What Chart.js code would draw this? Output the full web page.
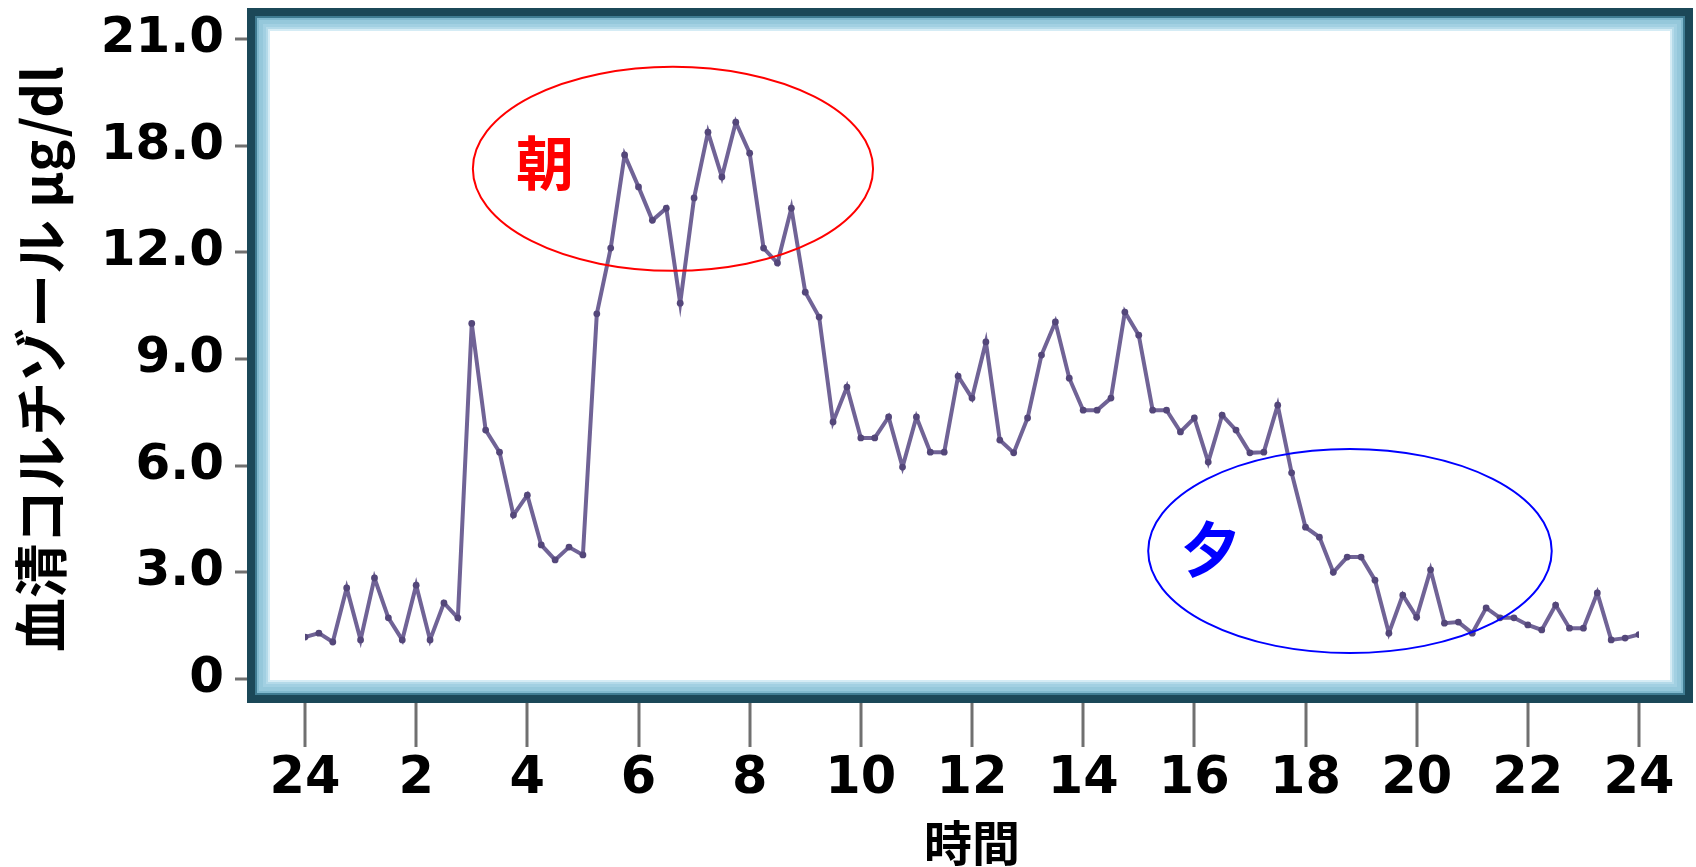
<!DOCTYPE html>
<html>
<head>
<meta charset="utf-8">
<script src="https://cdn.jsdelivr.net/npm/chart.js@4.4.1/dist/chart.umd.min.js"></script>
<style>
html,body{margin:0;padding:0;background:#ffffff;}
canvas{display:block;}
</style>
</head>
<body>
<canvas id="c" width="1696" height="867"></canvas>
<script>
// Time of day (hours after midnight)
const hours = [
  0, 0.25, 0.5, 0.75, 1, 1.25, 1.5, 1.75, 2, 2.25, 2.5, 2.75,
  3, 3.25, 3.5, 3.75, 4, 4.25, 4.5, 4.75, 5, 5.25, 5.5, 5.75,
  6, 6.25, 6.5, 6.75, 7, 7.25, 7.5, 7.75, 8, 8.25, 8.5, 8.75,
  9, 9.25, 9.5, 9.75, 10, 10.25, 10.5, 10.75, 11, 11.25, 11.5, 11.75,
  12, 12.25, 12.5, 12.75, 13, 13.25, 13.5, 13.75, 14, 14.25, 14.5, 14.75,
  15, 15.25, 15.5, 15.75, 16, 16.25, 16.5, 16.75, 17, 17.25, 17.5, 17.75,
  18, 18.25, 18.5, 18.75, 19, 19.25, 19.5, 19.75, 20, 20.25, 20.5, 20.75,
  21, 21.25, 21.5, 21.75, 22, 22.25, 22.5, 22.75, 23, 23.25, 23.5, 23.75,
  24
];
// Serum cortisol (in axis position units)
const cortisol = [
  1.18, 1.29, 1.04, 2.56, 1.10, 2.84, 1.72, 1.10, 2.64, 1.10, 2.14, 1.72,
  10.0, 7.0, 6.38, 4.61, 5.17, 3.77, 3.35, 3.71, 3.49, 10.27, 12.12, 14.74,
  13.84, 12.9, 13.24, 10.57, 13.53, 15.38, 14.12, 15.66, 14.79, 12.12, 11.7, 13.24,
  10.88, 10.18, 7.23, 8.21, 6.78, 6.78, 7.37, 5.96, 7.37, 6.38, 6.38, 8.52,
  7.9, 9.48, 6.72, 6.36, 7.34, 9.11, 10.04, 8.46, 7.56, 7.56, 7.9, 10.32,
  9.67, 7.56, 7.56, 6.95, 7.34, 6.1, 7.42, 7.0, 6.36, 6.38, 7.7, 5.8,
  4.27, 3.99, 3.0, 3.43, 3.43, 2.78, 1.29, 2.36, 1.74, 3.07, 1.57, 1.6,
  1.29, 2.0, 1.72, 1.72, 1.52, 1.38, 2.08, 1.43, 1.43, 2.42, 1.1, 1.15,
  1.25
];
const xTickLabels = ['24', '2', '4', '6', '8', '10', '12', '14', '16', '18', '20', '22', '24'];
const yTickLabels = ['0', '3.0', '6.0', '9.0', '12.0', '18.0', '21.0'];
const xTitle = '時間';
const yTitle = '血清コルチゾール μg/dl';
const noteTexts = ['朝', '夕'];

const notes = [
  {text: noteTexts[0], color: '#ff0000', cx: 6.62, cy: 14.35, rx: 3.6, ry: 2.87, tx: 4.32, ty: 14.5, size: 58},
  {text: noteTexts[1], color: '#0000ff', cx: 18.8, cy: 3.6, rx: 3.63, ry: 2.87, tx: 16.3, ty: 3.66, size: 60}
];

const framePlugin = {
  id: 'frame',
  beforeDraw(chart) {
    const {ctx, chartArea: a} = chart;
    const L = a.left - 58, T = a.top - 31, R = a.right + 54, B = a.bottom + 24;
    ctx.save();
    ctx.fillStyle = '#1b4858';
    ctx.fillRect(L, T, R - L, B - T);
    const bands = [
      ['#3f7c92', 8], ['#80b9ce', 10], ['#95c8db', 12], ['#a2d0e2', 16],
      ['#b4dae9', 19], ['#d5ecf5', 21], ['#ffffff', 23]
    ];
    for (const [c, i] of bands) {
      ctx.fillStyle = c;
      ctx.fillRect(L + i, T + i, R - L - 2 * i, B - T - 2 * i);
    }
    const xs = chart.scales.x, ys = chart.scales.y;
    ctx.strokeStyle = '#707070';
    ctx.lineWidth = 3;
    ctx.beginPath();
    xs.ticks.forEach(t => {
      const px = Math.round(xs.getPixelForValue(t.value));
      ctx.moveTo(px, B); ctx.lineTo(px, B + 44);
    });
    ys.ticks.forEach(t => {
      const py = Math.round(ys.getPixelForValue(t.value));
      ctx.moveTo(L - 12, py); ctx.lineTo(L, py);
    });
    ctx.stroke();
    ctx.restore();
  },
  afterDatasetsDraw(chart) {
    const {ctx} = chart;
    const xs = chart.scales.x, ys = chart.scales.y;
    ctx.save();
    for (const n of notes) {
      const cx = xs.getPixelForValue(n.cx), cy = ys.getPixelForValue(n.cy);
      const rx = xs.getPixelForValue(n.cx + n.rx) - cx;
      const ry = cy - ys.getPixelForValue(n.cy + n.ry);
      ctx.beginPath();
      ctx.ellipse(cx, cy, rx, ry, 0, 0, Math.PI * 2);
      ctx.strokeStyle = n.color;
      ctx.lineWidth = 2;
      ctx.stroke();
      ctx.fillStyle = n.color;
      ctx.font = 'bold ' + n.size + 'px "Noto Sans CJK JP"';
      ctx.textAlign = 'center';
      ctx.textBaseline = 'middle';
      ctx.fillText(n.text, xs.getPixelForValue(n.tx), ys.getPixelForValue(n.ty));
    }
    ctx.restore();
  }
};

new Chart(document.getElementById('c'), {
  type: 'line',
  data: {
    datasets: [{
      data: hours.map((h, i) => ({x: h, y: cortisol[i]})),
      borderColor: '#706396',
      backgroundColor: '#54477a',
      borderWidth: 4,
      pointRadius: 3.4,
      pointHoverRadius: 3.4,
      pointBorderWidth: 0,
      tension: 0,
      fill: false
    }]
  },
  options: {
    responsive: false,
    devicePixelRatio: 1,
    animation: false,
    events: [],
    layout: {padding: {left: 0, right: 57, top: 39, bottom: 0}},
    plugins: {legend: {display: false}, tooltip: {enabled: false}},
    scales: {
      x: {
        type: 'linear',
        min: 0,
        max: 24,
        afterBuildTicks: s => { s.ticks = xTickLabels.map((_, i) => ({value: i * 2})); },
        afterFit: s => { s.height = 188; s.paddingLeft = 0; s.paddingRight = 0; },
        grid: {display: false, drawTicks: false},
        border: {display: false},
        ticks: {
          padding: 70,
          autoSkip: false,
          maxRotation: 0,
          color: '#000000',
          font: {family: 'DejaVu Sans', weight: 'bold', size: 51},
          callback: (v, i) => xTickLabels[i]
        },
        title: {
          display: true,
          text: xTitle,
          color: '#000000',
          font: {family: 'Noto Sans CJK JP', weight: 'bold', size: 48, lineHeight: 1},
          padding: {top: 0, bottom: 0}
        }
      },
      y: {
        type: 'linear',
        min: 0,
        max: 18,
        afterBuildTicks: s => { s.ticks = yTickLabels.map((_, i) => ({value: i * 3})); },
        afterFit: s => { s.width = 305; s.paddingTop = 0; s.paddingBottom = 0; },
        grid: {display: false, drawTicks: false},
        border: {display: false},
        ticks: {
          padding: 81,
          autoSkip: false,
          color: '#000000',
          font: {family: 'DejaVu Sans', weight: 'bold', size: 50},
          callback: (v, i) => yTickLabels[i]
        },
        title: {
          display: true,
          text: yTitle,
          color: '#000000',
          font: {family: 'Noto Sans CJK JP', weight: 'bold', size: 54, lineHeight: 1.2},
          padding: {top: 9, bottom: 0}
        }
      }
    }
  },
  plugins: [framePlugin]
});
</script>
</body>
</html>
